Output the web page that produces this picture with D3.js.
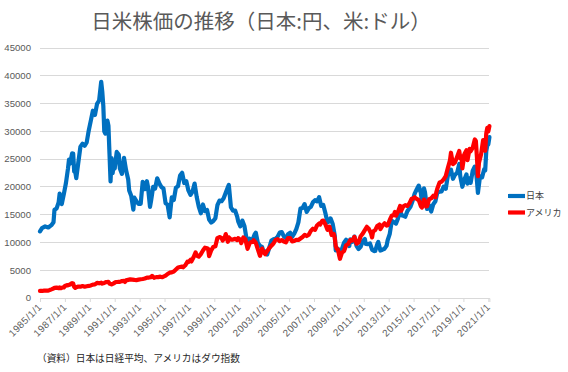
<!DOCTYPE html>
<html><head><meta charset="utf-8">
<script src="https://cdn.jsdelivr.net/npm/d3@7/dist/d3.min.js"></script>
<style>
html,body{margin:0;padding:0;background:#fff;}
svg{display:block;}
text{font-family:"Liberation Sans","Noto Sans CJK JP",sans-serif;}
.jp{font-family:"Noto Sans CJK JP","Noto Sans",sans-serif;}
</style></head>
<body>
<svg id="chart" width="568" height="372"></svg>
<script>
// ---- data (monthly closes) ----
const japan = [
["1985-01",11992],["1985-03",12580],["1985-06",12882],["1985-09",12700],["1985-12",13113],
["1986-02",13640],["1986-03",15860],["1986-05",16100],["1986-07",17200],["1986-08",18800],["1986-10",16900],["1986-12",18701],
["1987-02",20700],["1987-04",23270],["1987-05",24900],["1987-06",24180],["1987-08",26030],["1987-09",26010],["1987-10",22765],["1987-11",22686],["1987-12",21564],
["1988-02",24500],["1988-04",27250],["1988-06",27770],["1988-08",27390],["1988-10",27990],["1988-12",30159],
["1989-02",31980],["1989-04",33710],["1989-06",32950],["1989-08",34950],["1989-10",35550],["1989-12",38916],
["1990-01",37189],["1990-02",34591],["1990-03",29980],["1990-04",29585],["1990-06",31940],["1990-07",31036],["1990-08",25978],["1990-09",20984],["1990-10",25194],["1990-11",22455],["1990-12",23849],
["1991-01",23293],["1991-03",26292],["1991-05",25790],["1991-06",23291],["1991-08",22335],["1991-10",25222],["1991-12",22984],
["1992-02",21339],["1992-03",19346],["1992-05",18348],["1992-07",15910],["1992-08",18061],["1992-10",17390],["1992-12",16925],
["1993-02",16953],["1993-04",20919],["1993-06",19590],["1993-08",21027],["1993-09",20106],["1993-11",16408],["1993-12",17417],
["1994-02",19997],["1994-04",19725],["1994-06",21552],["1994-08",20629],["1994-10",19990],["1994-12",19723],
["1995-02",17053],["1995-04",16807],["1995-06",14517],["1995-08",18117],["1995-10",17655],["1995-12",19868],
["1996-02",20125],["1996-04",22041],["1996-06",22531],["1996-08",20693],["1996-10",21040],["1996-12",19361],
["1997-02",18557],["1997-04",19151],["1997-06",20605],["1997-08",18229],["1997-10",16458],["1997-12",15259],
["1998-02",16831],["1998-04",15641],["1998-06",15830],["1998-08",14108],["1998-10",13564],["1998-12",13842],
["1999-02",14368],["1999-04",16702],["1999-06",17530],["1999-08",17437],["1999-10",17942],["1999-12",18934],
["2000-02",19960],["2000-03",20337],["2000-05",16332],["2000-07",15727],["2000-09",15747],["2000-11",14649],["2000-12",13786],
["2001-02",12884],["2001-04",13934],["2001-06",12969],["2001-08",10714],["2001-09",9775],["2001-11",10697],["2001-12",10543],
["2002-02",10588],["2002-04",11493],["2002-05",11764],["2002-07",9878],["2002-09",9383],["2002-11",9216],["2002-12",8579],
["2003-02",8363],["2003-04",7831],["2003-06",9083],["2003-08",10344],["2003-10",10560],["2003-12",10677],
["2004-02",11042],["2004-04",11762],["2004-06",11859],["2004-08",11082],["2004-10",10771],["2004-12",11489],
["2005-02",11741],["2005-04",11009],["2005-06",11585],["2005-08",12414],["2005-10",13607],["2005-12",16111],
["2006-02",16205],["2006-04",16906],["2006-06",15505],["2006-08",16141],["2006-10",16399],["2006-12",17226],
["2007-02",17604],["2007-04",17400],["2007-06",18138],["2007-08",16569],["2007-10",16737],["2007-12",15308],
["2008-02",13603],["2008-04",13850],["2008-05",14338],["2008-07",13376],["2008-09",11260],["2008-10",8577],["2008-12",8860],
["2009-02",7568],["2009-04",8828],["2009-06",9958],["2009-08",10492],["2009-10",10035],["2009-11",9346],["2009-12",10546],
["2010-02",10126],["2010-04",11057],["2010-06",9383],["2010-08",8824],["2010-10",9202],["2010-12",10229],
["2011-02",10624],["2011-03",9755],["2011-05",9694],["2011-07",9833],["2011-09",8700],["2011-11",8435],["2011-12",8455],
["2012-02",9723],["2012-03",10084],["2012-05",8543],["2012-07",8695],["2012-09",8870],["2012-11",9446],["2012-12",10395],
["2013-02",11559],["2013-04",13861],["2013-05",13775],["2013-06",13677],["2013-08",13389],["2013-10",14328],["2013-12",16291],
["2014-01",14914],["2014-03",14828],["2014-05",14632],["2014-07",15621],["2014-09",16174],["2014-10",16414],["2014-12",17451],
["2015-02",18798],["2015-04",19520],["2015-06",20236],["2015-08",18890],["2015-09",17388],["2015-11",19747],["2015-12",19034],
["2016-02",16027],["2016-04",16666],["2016-06",15576],["2016-08",16887],["2016-10",17425],["2016-12",19114],
["2017-02",19119],["2017-04",19197],["2017-06",20033],["2017-08",19646],["2017-10",22012],["2017-12",22765],
["2018-01",23098],["2018-03",21454],["2018-05",22202],["2018-07",22554],["2018-09",24120],["2018-10",21920],["2018-12",20015],
["2019-02",21385],["2019-04",22259],["2019-05",20601],["2019-07",21521],["2019-08",20704],["2019-10",22927],["2019-12",23657],
["2020-01",23205],["2020-02",21143],["2020-03",18917],["2020-05",21878],["2020-07",21710],["2020-09",23185],["2020-10",22977],["2020-11",26434],["2020-12",27444],
["2021-01",27663],["2021-02",28966]
];
const america = [
["1985-01",1287],["1985-03",1267],["1985-05",1316],["1985-07",1348],["1985-09",1329],["1985-11",1473],["1985-12",1547],
["1986-02",1710],["1986-03",1819],["1986-05",1877],["1986-07",1775],["1986-08",1898],["1986-09",1768],["1986-11",1914],["1986-12",1896],
["1987-01",2158],["1987-03",2305],["1987-04",2286],["1987-06",2419],["1987-07",2572],["1987-08",2663],["1987-09",2596],["1987-10",1994],["1987-11",1834],["1987-12",1939],
["1988-02",2072],["1988-04",2032],["1988-06",2142],["1988-08",2032],["1988-10",2115],["1988-12",2169],
["1989-02",2259],["1989-04",2419],["1989-06",2440],["1989-08",2737],["1989-10",2645],["1989-12",2753],
["1990-01",2591],["1990-03",2707],["1990-05",2877],["1990-07",2905],["1990-08",2614],["1990-10",2442],["1990-12",2634],
["1991-02",2882],["1991-04",2888],["1991-06",2907],["1991-08",3044],["1991-10",3069],["1991-11",2895],["1991-12",3169],
["1992-02",3267],["1992-04",3359],["1992-06",3319],["1992-08",3257],["1992-10",3226],["1992-12",3301],
["1993-02",3370],["1993-04",3428],["1993-06",3516],["1993-08",3651],["1993-10",3681],["1993-12",3754],
["1994-01",3978],["1994-03",3636],["1994-05",3758],["1994-07",3765],["1994-09",3843],["1994-11",3739],["1994-12",3834],
["1995-02",4011],["1995-04",4321],["1995-06",4556],["1995-08",4611],["1995-10",4756],["1995-12",5117],
["1996-02",5486],["1996-04",5569],["1996-06",5655],["1996-07",5529],["1996-09",5882],["1996-11",6522],["1996-12",6448],
["1997-02",6878],["1997-03",6584],["1997-05",7331],["1997-07",8223],["1997-08",7622],["1997-10",7442],["1997-12",7908],
["1998-02",8546],["1998-04",9063],["1998-06",8952],["1998-07",8883],["1998-08",7539],["1998-10",8592],["1998-12",9181],
["1999-02",9307],["1999-04",10789],["1999-06",10971],["1999-08",10829],["1999-09",10337],["1999-11",10878],["1999-12",11497],
["2000-02",10128],["2000-03",10922],["2000-05",10522],["2000-07",10522],["2000-09",10651],["2000-11",10415],["2000-12",10787],
["2001-02",10495],["2001-03",9879],["2001-05",10912],["2001-07",10523],["2001-09",8848],["2001-11",9852],["2001-12",10022],
["2002-02",10106],["2002-03",10404],["2002-05",9925],["2002-07",8737],["2002-09",7592],["2002-11",8896],["2002-12",8342],
["2003-02",7891],["2003-04",8480],["2003-06",8985],["2003-08",9416],["2003-10",9801],["2003-12",10454],
["2004-02",10584],["2004-04",10226],["2004-06",10435],["2004-08",10174],["2004-10",10027],["2004-12",10783],
["2005-02",10766],["2005-04",10193],["2005-06",10275],["2005-08",10482],["2005-10",10440],["2005-12",10718],
["2006-02",10993],["2006-04",11367],["2006-06",11150],["2006-08",11381],["2006-10",12081],["2006-12",12463],
["2007-02",12269],["2007-04",13063],["2007-06",13409],["2007-07",13212],["2007-09",13896],["2007-10",13930],["2007-12",13265],
["2008-02",12266],["2008-04",12820],["2008-06",11350],["2008-08",11544],["2008-09",10851],["2008-10",9325],["2008-11",8829],["2008-12",8776],
["2009-02",7063],["2009-04",8168],["2009-06",8447],["2009-08",9496],["2009-10",9713],["2009-12",10428],
["2010-02",10325],["2010-04",11009],["2010-06",9774],["2010-08",10015],["2010-10",11118],["2010-12",11578],
["2011-02",12226],["2011-04",12811],["2011-06",12414],["2011-08",11614],["2011-09",10913],["2011-10",11955],["2011-12",12218],
["2012-02",12952],["2012-04",13214],["2012-05",12393],["2012-07",13009],["2012-09",13437],["2012-11",13026],["2012-12",13104],
["2013-02",14054],["2013-04",14840],["2013-06",14910],["2013-07",15500],["2013-08",14810],["2013-10",15546],["2013-12",16577],
["2014-01",15699],["2014-03",16458],["2014-05",16717],["2014-07",16563],["2014-09",17043],["2014-11",17828],["2014-12",17823],
["2015-02",18133],["2015-04",17841],["2015-06",17620],["2015-08",16528],["2015-09",16285],["2015-11",17720],["2015-12",17425],
["2016-01",16466],["2016-02",16517],["2016-04",17774],["2016-06",17930],["2016-08",18401],["2016-10",18142],["2016-11",19124],["2016-12",19763],
["2017-02",20812],["2017-04",20941],["2017-06",21350],["2017-08",21948],["2017-10",23377],["2017-12",24719],
["2018-01",26149],["2018-02",25029],["2018-03",24103],["2018-05",24416],["2018-07",25415],["2018-09",26458],["2018-10",25116],["2018-11",25538],["2018-12",23327],
["2019-02",25916],["2019-04",26593],["2019-05",24815],["2019-07",26864],["2019-08",26403],["2019-10",27046],["2019-12",28538],
["2020-01",28256],["2020-02",25409],["2020-03",21917],["2020-04",24346],["2020-06",25813],["2020-08",28430],["2020-10",26502],["2020-11",29639],["2020-12",30606],
["2021-01",29983],["2021-02",30932]
];
const seriesNames = ["日本","アメリカ"];
const seriesColors = ["#0070C0","#FF0000"];
const yTicks = [0,5000,10000,15000,20000,25000,30000,35000,40000,45000];
const xTickLabels = ["1985/1/1","1987/1/1","1989/1/1","1991/1/1","1993/1/1","1995/1/1","1997/1/1","1999/1/1","2001/1/1","2003/1/1","2005/1/1","2007/1/1","2009/1/1","2011/1/1","2013/1/1","2015/1/1","2017/1/1","2019/1/1","2021/1/1"];
const titleText = "日米株価の推移（日本:円、米:ドル）";
const noteText = "（資料）日本は日経平均、アメリカはダウ指数";

// ---- drawing ----
const svg = d3.select("#chart");
const parseM = d3.timeParse("%Y-%m");
const parseT = d3.timeParse("%Y/%m/%d");
const L = 40, R = 489.4, T = 48, B = 298;

const x = d3.scaleTime().domain([parseM("1985-01"), parseM("2021-02")]).range([L, R]);
const y = d3.scaleLinear().domain([0, 45000]).range([B, T]);

svg.append("text").attr("class","jp")
  .attr("x", 261).attr("y", 29).attr("text-anchor","middle")
  .attr("font-size", 20.5).attr("fill","#595959").text(titleText);

// gridlines
svg.append("g").selectAll("line").data(yTicks).join("line")
  .attr("x1", L).attr("x2", R).attr("y1", d => y(d)).attr("y2", d => y(d))
  .attr("stroke", "#d9d9d9").attr("stroke-width", 1).attr("shape-rendering","crispEdges");

// y labels
svg.append("g").selectAll("text").data(yTicks).join("text")
  .attr("x", 31).attr("y", d => y(d)).attr("dy","0.35em").attr("text-anchor","end")
  .attr("font-size", 9.6).attr("fill","#595959").text(d => d);

// x axis
const xTickDates = xTickLabels.map(parseT);
const xAxis = d3.axisBottom(x).tickValues(xTickDates).tickSize(4).tickFormat("");
const gx = svg.append("g").attr("transform", `translate(0,${B})`).call(xAxis);
gx.select(".domain").attr("stroke","#d9d9d9");
gx.selectAll(".tick line").attr("stroke","#d9d9d9");
svg.append("g").selectAll("text").data(xTickLabels).join("text")
  .attr("transform", (d,i) => `translate(${x(xTickDates[i]) + 2.5},${B + 9.5}) rotate(-45)`)
  .attr("text-anchor","end").attr("letter-spacing", 0.5)
  .attr("font-size", 9.8).attr("fill","#595959").text(d => d);

// lines
const line = d3.line().x(d => x(parseM(d[0]))).y(d => y(d[1]));
[japan, america].forEach((s, i) => {
  svg.append("path").datum(s).attr("d", line)
    .attr("fill","none").attr("stroke", seriesColors[i]).attr("stroke-width", 4.2)
    .attr("stroke-linejoin","round").attr("stroke-linecap","round");
});

// legend
const lg = svg.append("g");
seriesNames.forEach((n, i) => {
  const ly = 196 + i * 16.5;
  lg.append("line").attr("x1", 508).attr("x2", 525).attr("y1", ly).attr("y2", ly)
    .attr("stroke", seriesColors[i]).attr("stroke-width", 4.2);
  lg.append("text").attr("class","jp").attr("x", 526).attr("y", ly).attr("dy","0.36em")
    .attr("font-size", 9).attr("fill","#404040").text(n);
});

// footnote
svg.append("text").attr("class","jp").attr("x", 37).attr("y", 362)
  .attr("font-size", 9.7).attr("fill","#262626").text(noteText);
</script>
</body></html>
